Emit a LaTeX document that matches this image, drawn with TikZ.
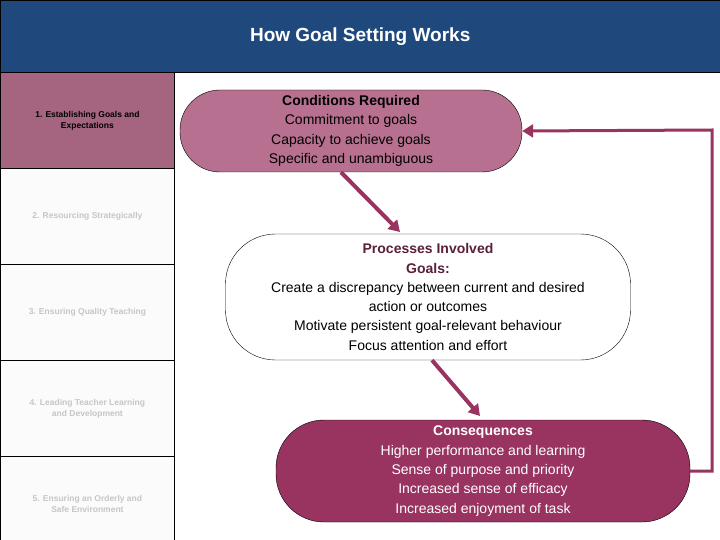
\documentclass[tikz,border=0pt]{standalone}
\usepackage{fontspec}
\setmainfont{Liberation Sans}
\usetikzlibrary{arrows.meta}
\definecolor{hdblue}{HTML}{1F497D}
\definecolor{cellpink}{HTML}{A5647F}
\definecolor{condpink}{HTML}{B87090}
\definecolor{plum}{HTML}{993360}
\tikzset{
  cell/.style={draw=black, line width=0.8pt, minimum width=174, minimum height=96,
    anchor=north west, align=center, font=\bfseries\fontsize{8.5}{11}\selectfont},
  stage/.style={draw=black, rounded corners=40, align=center,
    font=\fontsize{14}{19.3}\selectfont, inner sep=2pt},
  flow/.style={-{Triangle[length=11pt,width=13pt]}, line width=4pt, draw=plum}
}
\begin{document}
\begin{tikzpicture}[x=1pt,y=-1pt]
  \useasboundingbox (0,0) rectangle (720,540);
  \fill[white] (0,0) rectangle (720,540);
  % header
  \node[fill=hdblue, draw=black, minimum width=720, minimum height=72, anchor=north west,
    text=white, font=\bfseries\fontsize{19}{22}\selectfont, inner sep=0] (title) at (0,0)
    {How Goal Setting Works};
  % left column
  \node[cell, fill=cellpink] (c1) at (0,72) {1. Establishing Goals and\\Expectations};
  \node[cell, fill=gray!3, text=gray!45] (c2) at (0,168) {2. Resourcing Strategically};
  \node[cell, fill=gray!3, text=gray!45] (c3) at (0,264) {3. Ensuring Quality Teaching};
  \node[cell, fill=gray!3, text=gray!45] (c4) at (0,360) {4. Leading Teacher Learning\\and Development};
  \node[cell, fill=gray!3, text=gray!45] (c5) at (0,456) {5. Ensuring an Orderly and\\Safe Environment};
  % stages
  \node[stage, fill=condpink, minimum width=342, minimum height=82] (cond) at (351,131)
    {\textbf{Conditions Required}\\Commitment to goals\\Capacity to achieve goals\\Specific and unambiguous};
  \node[stage, fill=white, minimum width=405, minimum height=126, rounded corners=50] (proc) at (428,297)
    {\textbf{\textcolor{plum!60!black}{Processes Involved}}\\\textbf{\textcolor{plum!60!black}{Goals:}}\\Create a discrepancy between current and desired\\action or outcomes\\Motivate persistent goal-relevant behaviour\\Focus attention and effort};
  \node[stage, fill=plum, text=white, minimum width=414, minimum height=102, rounded corners=48] (cons) at (483,471)
    {\textbf{Consequences}\\Higher performance and learning\\Sense of purpose and priority\\Increased sense of efficacy\\Increased enjoyment of task};
  % connectors
  \coordinate (fbr) at (712,471);
  \coordinate (fbt) at (712,130);
  \draw[flow] (cond.south) ++(-10,0) -- (400,232);
  \draw[flow] (proc.south) ++(4,0) -- (480,416);
  \draw[flow, line width=3pt] (cons.east) -- (fbr) -- (fbt) -- (cond.east);
\end{tikzpicture}
\end{document}
